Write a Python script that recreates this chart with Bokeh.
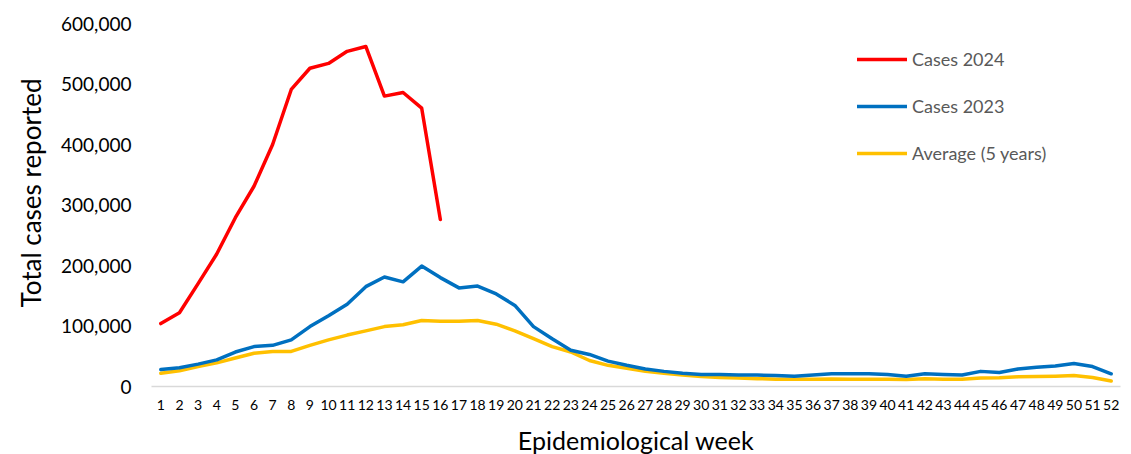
from bokeh.plotting import figure
from bokeh.models import (FactorRange, Range1d, FixedTicker, NumeralTickFormatter,
                          Legend, LegendItem, ColumnDataSource, Title)
from bokeh.embed import file_html
from bokeh.resources import INLINE

weeks = ["1", "2", "3", "4", "5", "6", "7", "8", "9", "10", "11", "12", "13",
         "14", "15", "16", "17", "18", "19", "20", "21", "22", "23", "24", "25", "26",
         "27", "28", "29", "30", "31", "32", "33", "34", "35", "36", "37", "38", "39",
         "40", "41", "42", "43", "44", "45", "46", "47", "48", "49", "50", "51", "52"]

cases_2024 = [104000, 122000, 170000, 219000, 279000, 331000, 400000, 491000,
              526000, 534000, 554000, 562000, 480000, 486000, 460000, 276000]

cases_2023 = [28000, 31000, 37000, 44000, 57000, 66000, 68000, 77000, 99000, 117000,
              136000, 165000, 181000, 173000, 199000, 180000, 163000, 166000, 153000,
              134000, 99000, 79000, 60000, 53000, 42000, 35000, 29000, 25000, 22000,
              20000, 20000, 19000, 19000, 18000, 17000, 19000, 21000, 21000, 21000,
              20000, 17000, 21000, 20000, 19000, 25000, 23000, 29000, 32000, 34000,
              38000, 33000, 21000]

average_5y = [22000, 26000, 33000, 39000, 47000, 55000, 58000, 58000, 68000, 77000,
              85000, 92000, 99000, 102000, 109000, 108000, 108000, 109000, 103000,
              92000, 79000, 66000, 57000, 43000, 35000, 30000, 25000, 22000, 19000,
              16500, 15000, 14000, 13000, 12000, 12000, 12000, 12500, 12000, 12000,
              12000, 11500, 13000, 12000, 12000, 14000, 14500, 16000, 16500, 17000,
              18000, 15000, 9000]

y_ticks = [0, 100000, 200000, 300000, 400000, 500000, 600000]

FONT = "Lato"

p = figure(x_range=FactorRange(factors=weeks), y_range=Range1d(0, 600000),
           frame_width=969, frame_height=363,
           min_border_left=151, min_border_right=11, min_border_top=23, min_border_bottom=68,
           output_backend="svg", toolbar_location=None)
p.outline_line_color = None
p.xgrid.visible = False
p.ygrid.visible = False

src24 = ColumnDataSource(dict(x=weeks[:len(cases_2024)], y=cases_2024))
src23 = ColumnDataSource(dict(x=weeks, y=cases_2023))
srcav = ColumnDataSource(dict(x=weeks, y=average_5y))

r_av = p.line("x", "y", source=srcav, line_color="#FFC000", line_width=3.5, line_join="round", line_cap="round")
r_23 = p.line("x", "y", source=src23, line_color="#0070C0", line_width=3.5, line_join="round", line_cap="round")
r_24 = p.line("x", "y", source=src24, line_color="#FF0000", line_width=3.5, line_join="round", line_cap="round")

# y axis
ya = p.yaxis[0]
ya.ticker = FixedTicker(ticks=y_ticks)
ya.formatter = NumeralTickFormatter(format="0,0")
ya.axis_line_color = None
ya.major_tick_line_color = None
ya.minor_tick_line_color = None
ya.major_tick_out = 0
ya.major_label_standoff = 20
ya.major_label_text_font = FONT
ya.major_label_text_font_size = "19px"
ya.major_label_text_color = "#000000"

# y axis title (sits slightly above the frame centre in the reference)
ytitle = Title(text="Total cases reported", align="left", offset=79, standoff=23,
               text_font=FONT, text_font_size="26px", text_font_style="normal",
               text_color="#000000")
p.add_layout(ytitle, "left")

# x axis
xa = p.xaxis[0]
xa.axis_line_color = "#D9D9D9"
xa.axis_line_width = 1.5
xa.major_tick_line_color = None
xa.minor_tick_line_color = None
xa.major_tick_out = 0
xa.major_label_standoff = 13
xa.major_label_text_font = FONT
xa.major_label_text_font_size = "14px"
xa.major_label_text_color = "#000000"
xa.axis_label = "Epidemiological week"
xa.axis_label_text_font = FONT
xa.axis_label_text_font_size = "25px"
xa.axis_label_text_font_style = "normal"
xa.axis_label_text_color = "#000000"
xa.axis_label_standoff = 12

legend = Legend(items=[LegendItem(label="Cases 2024", renderers=[r_24]),
                       LegendItem(label="Cases 2023", renderers=[r_23]),
                       LegendItem(label="Average (5 years)", renderers=[r_av])],
                location=(706, 222), orientation="vertical",
                glyph_width=50, glyph_height=20, label_height=20, spacing=25,
                label_standoff=5, padding=0, margin=0,
                border_line_color=None, background_fill_alpha=0,
                label_text_font=FONT, label_text_font_size="18px",
                label_text_color="#595959")
p.add_layout(legend, "center")

open("out.html", "w").write(file_html(p, INLINE))
